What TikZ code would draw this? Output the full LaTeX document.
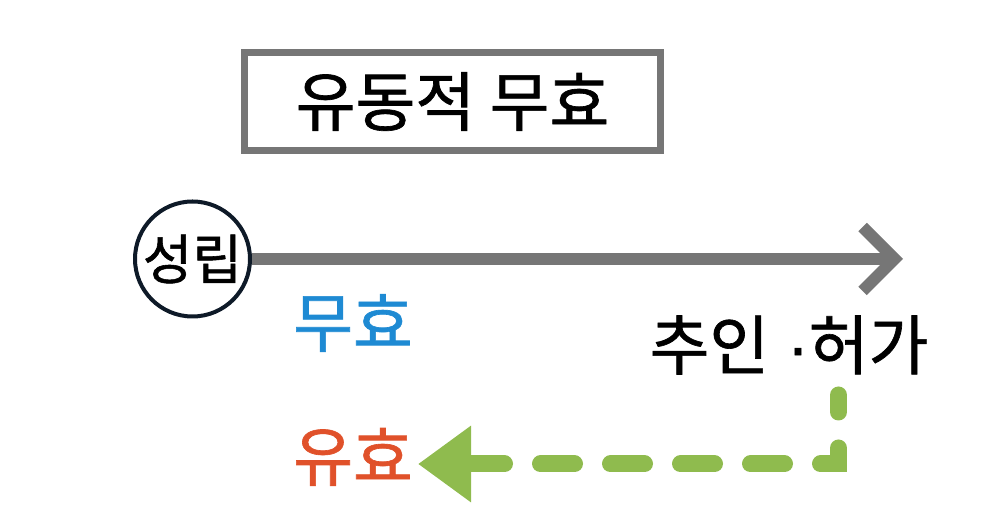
\documentclass[tikz,border=0pt]{standalone}
\usepackage{fontspec}
\setmainfont{Noto Sans CJK KR}[FakeBold=1]
\newfontfamily\dotfont{Liberation Sans}[FakeBold=1]
\usepackage{xcolor}
\usepackage{tikz}
\usetikzlibrary{arrows.meta,positioning}
\definecolor{kgray}{HTML}{767676}
\definecolor{knavy}{HTML}{0E1A28}
\definecolor{kblue}{HTML}{1E8AD3}
\definecolor{korange}{HTML}{E0512A}
\definecolor{kgreen}{HTML}{8FBB4E}

\tikzset{
  bigtxt/.style={font=\fontsize{32.5}{38}\selectfont, inner sep=0pt},
  titlebox/.style={draw=kgray, line width=3.5pt, minimum width=208pt, minimum height=49pt, inner sep=0pt},
  startcircle/.style={circle, draw=knavy, line width=2pt, minimum size=57.5pt, inner sep=0pt, font=\fontsize{27}{32}\selectfont},
  timeline/.style={kgray, line width=6pt, -{Straight Barb[length=16pt,width=32pt,line cap=butt,line join=miter]}},
  backline/.style={kgreen, line width=8.5pt, line cap=round, dash pattern=on 17pt off 18pt, dash phase=8.5pt, -{Triangle[length=26.5pt,width=36.5pt]}}
}

\begin{document}
\begin{tikzpicture}[x=0.5pt,y=-0.5pt]
      \useasboundingbox (0,0) rectangle (992,528);

      % title
      \node[titlebox,bigtxt] (title) at (452.5,101.5) {유동적 무효};

      % time axis
      \node[startcircle] (seongrip) at (192.5,259) {성립};
      \coordinate (axisend) at (903,259);
      \draw[timeline] (seongrip) -- (axisend);

      % labels
      \node[bigtxt,text=kblue] (muhyo) at (353,323) {무효};
      \node[bigtxt] (chuin) at (789,345) {추인\hspace{9pt}{\dotfont ·}허가};
      \node[bigtxt,text=korange] (yuhyo) at (353,457) {유효};

      % retroactive effect
      \coordinate (backtop) at (838.5,395);
      \coordinate (backcorner) at (838.5,464);
      \coordinate (backend) at (418,464);
      \draw[backline] (backtop) -- (backcorner) -- (backend);
    \end{tikzpicture}
\end{document}
